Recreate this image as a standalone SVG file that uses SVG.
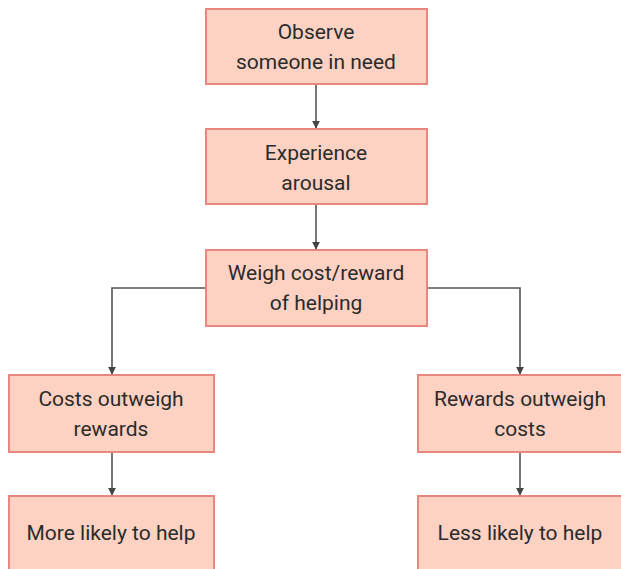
<svg xmlns="http://www.w3.org/2000/svg" width="621" height="569" viewBox="0 0 621 569">
<style>
.box{fill:#fdd2c2;stroke:#e8877e;stroke-width:2}
.t{font-family:Roboto,"Liberation Sans",sans-serif;font-size:21px;fill:#2b2b2b;text-anchor:middle;dominant-baseline:central}
.c{fill:none;stroke:#555;stroke-width:1.6}
</style>
<defs>
<marker id="ah" viewBox="0 0 10 10" refX="9" refY="5" markerWidth="8" markerHeight="8" markerUnits="userSpaceOnUse" orient="auto"><path d="M0,0L10,5L0,10z" fill="#444"/></marker>
</defs>
<rect width="621" height="569" fill="#fff"/>
<g id="connectors">
<path class="c" d="M316,84V128" marker-end="url(#ah)"/>
<path class="c" d="M316,204V249" marker-end="url(#ah)"/>
<path class="c" d="M206,288H112V374" marker-end="url(#ah)"/>
<path class="c" d="M427,288H520V374" marker-end="url(#ah)"/>
<path class="c" d="M112,452V495" marker-end="url(#ah)"/>
<path class="c" d="M520,452V495" marker-end="url(#ah)"/>
</g>
<g id="observe"><rect class="box" x="206" y="9" width="221" height="75"/><text class="t" x="316" y="32">Observe</text><text class="t" x="316" y="62">someone in need</text></g>
<g id="arousal"><rect class="box" x="206" y="129" width="221" height="75"/><text class="t" x="316" y="153">Experience</text><text class="t" x="316" y="183">arousal</text></g>
<g id="weigh"><rect class="box" x="206" y="250" width="221" height="76"/><text class="t" x="316" y="273">Weigh cost/reward</text><text class="t" x="316" y="303">of helping</text></g>
<g id="costs"><rect class="box" x="9" y="375" width="205" height="77"/><text class="t" x="111" y="399">Costs outweigh</text><text class="t" x="111" y="429">rewards</text></g>
<g id="rewards"><rect class="box" x="418" y="375" width="212" height="77"/><text class="t" x="520" y="399">Rewards outweigh</text><text class="t" x="520" y="429">costs</text></g>
<g id="more"><rect class="box" x="9" y="496" width="205" height="85"/><text class="t" x="111" y="533">More likely to help</text></g>
<g id="less"><rect class="box" x="418" y="496" width="212" height="85"/><text class="t" x="520" y="533">Less likely to help</text></g>
</svg>
